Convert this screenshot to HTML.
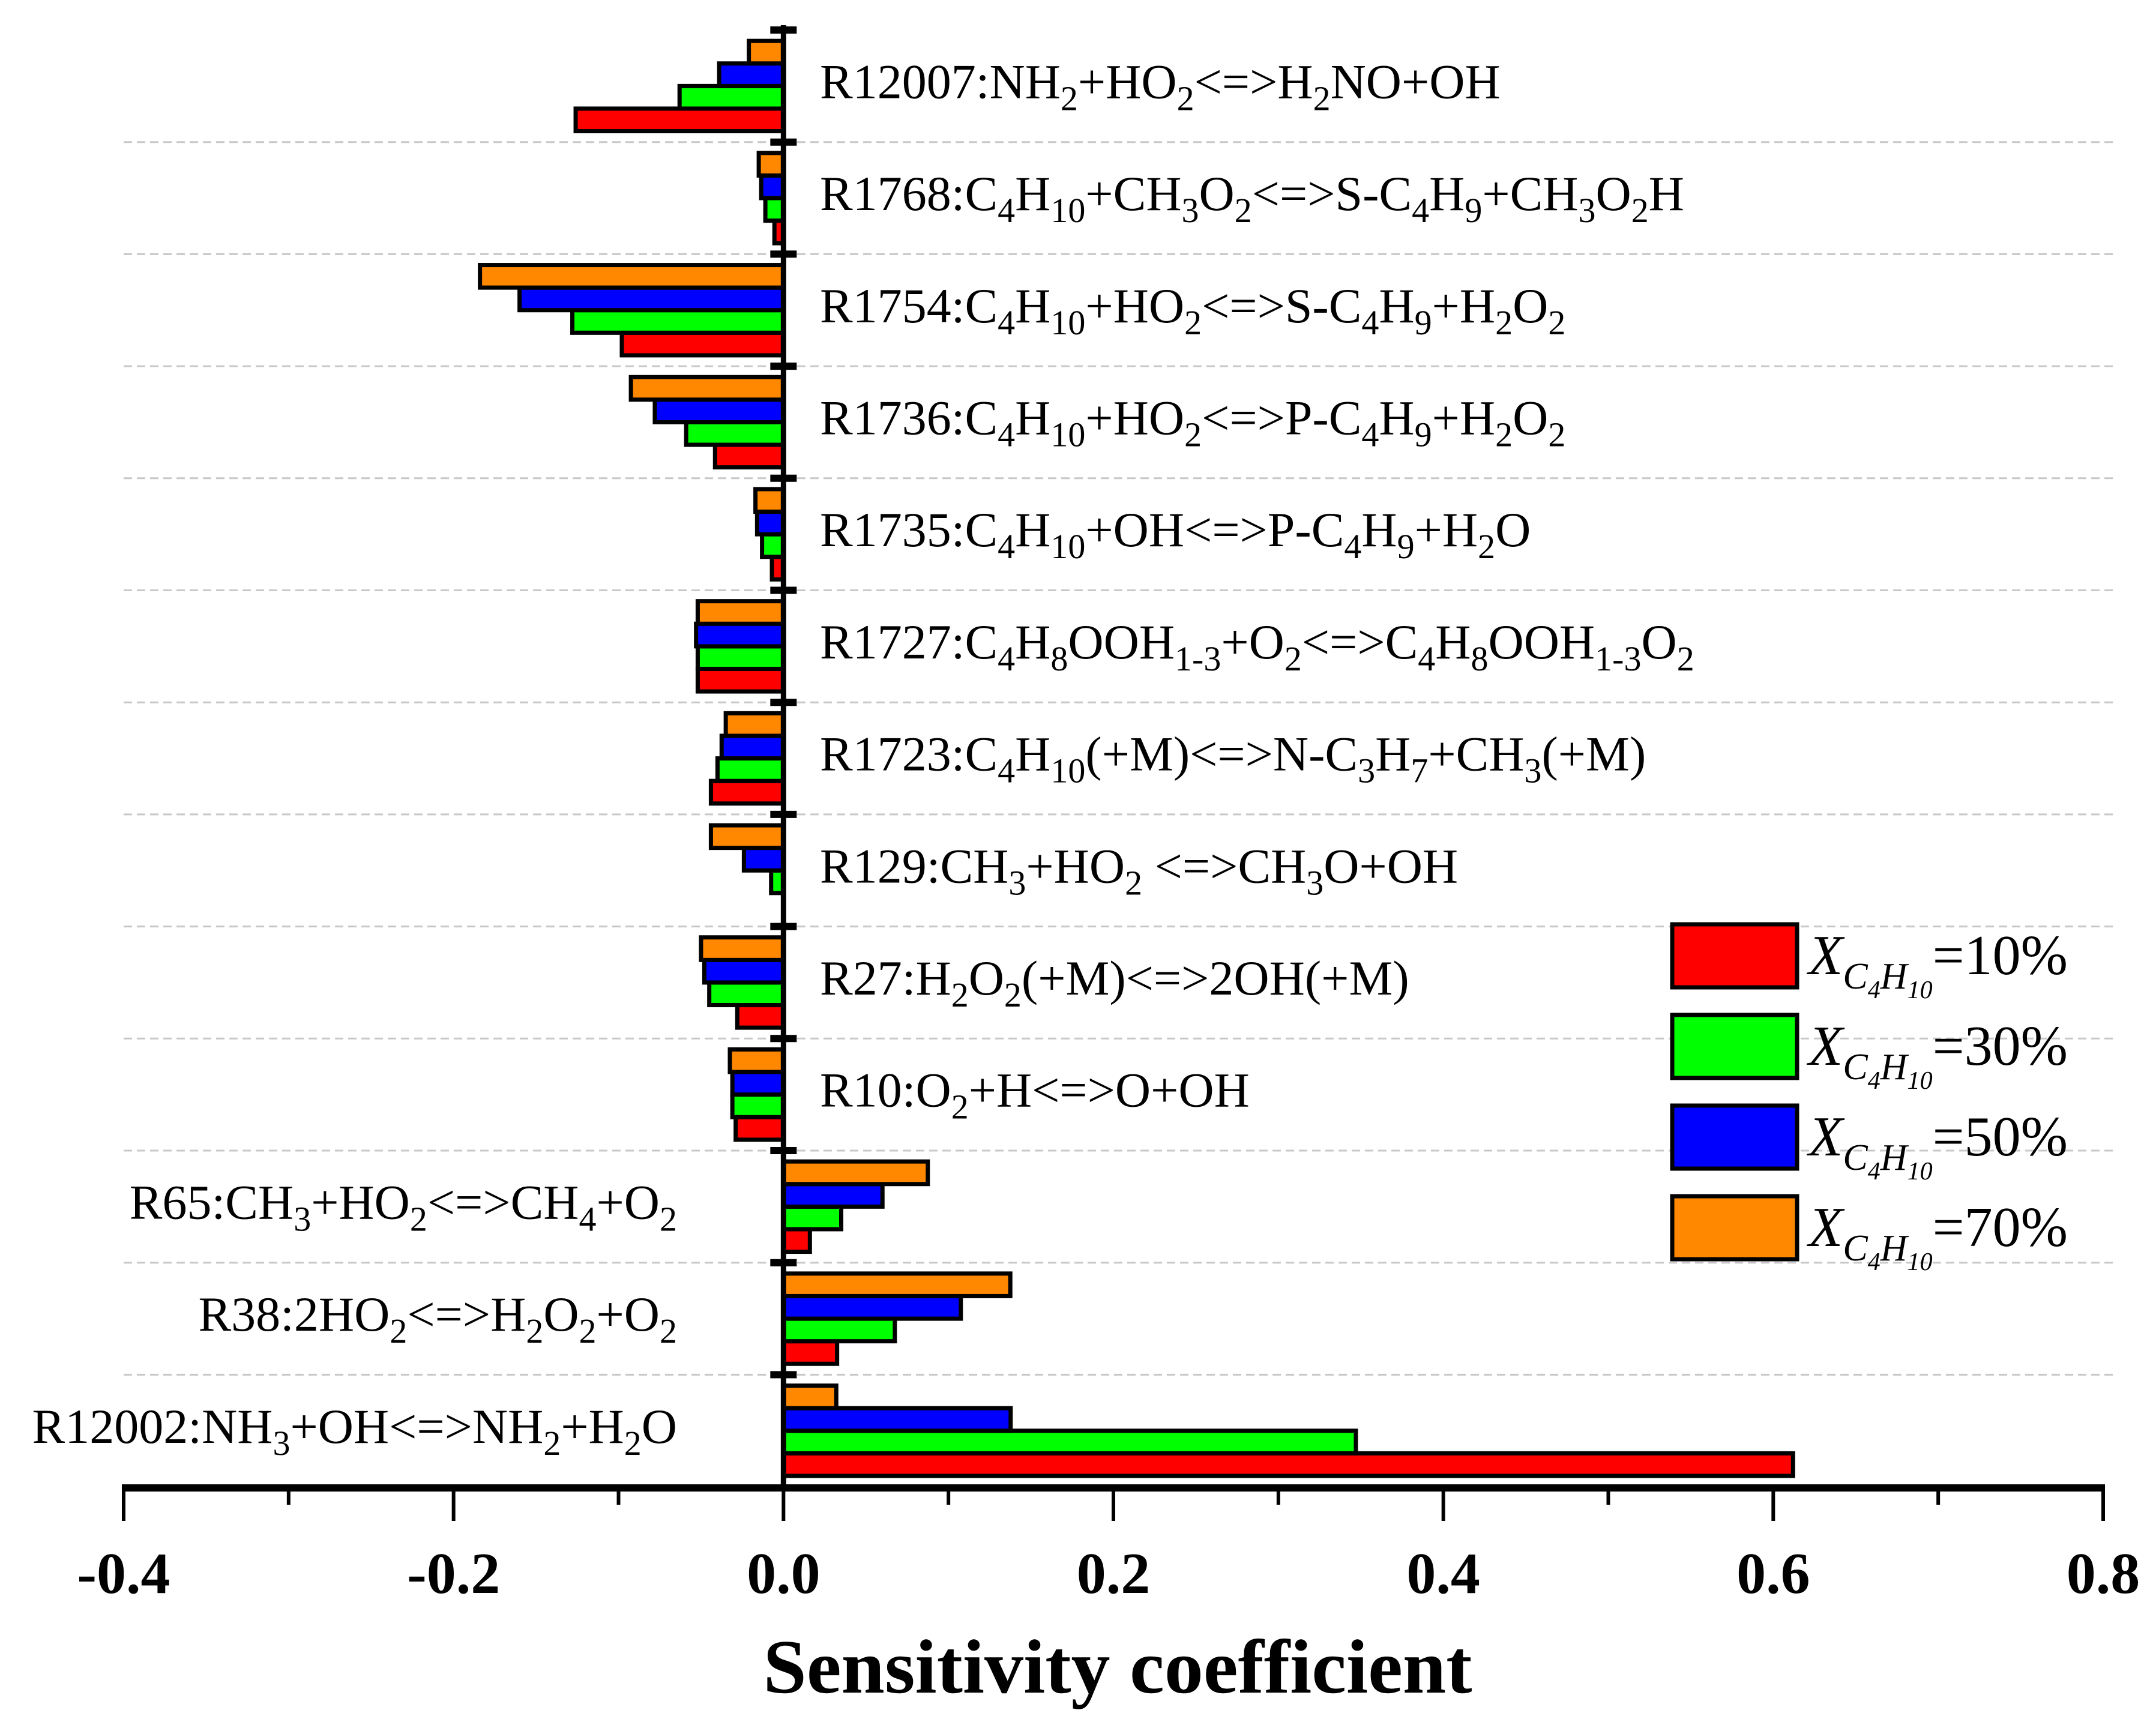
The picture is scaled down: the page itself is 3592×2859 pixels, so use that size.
<!DOCTYPE html>
<html><head><meta charset="utf-8"><style>
html,body{margin:0;padding:0;background:#fff;}
svg{display:block;}
text{font-family:"Liberation Serif","Times New Roman",serif;fill:#000;}
</style></head><body>
<svg id="chart" width="3592" height="2859" viewBox="0 0 3592 2859" xmlns="http://www.w3.org/2000/svg">
<g id="grid"></g>
<g id="bars"></g>
<g id="axes"></g>
<g id="labels"></g>
<g id="legend"></g>
<text x="1862" y="2820" text-anchor="middle" font-size="128" font-weight="bold" textLength="1181" lengthAdjust="spacingAndGlyphs">Sensitivity coefficient</text>
</svg>
<script>
const categories = [
 "R12007:NH_{2}+HO_{2}<=>H_{2}NO+OH",
 "R1768:C_{4}H_{10}+CH_{3}O_{2}<=>S-C_{4}H_{9}+CH_{3}O_{2}H",
 "R1754:C_{4}H_{10}+HO_{2}<=>S-C_{4}H_{9}+H_{2}O_{2}",
 "R1736:C_{4}H_{10}+HO_{2}<=>P-C_{4}H_{9}+H_{2}O_{2}",
 "R1735:C_{4}H_{10}+OH<=>P-C_{4}H_{9}+H_{2}O",
 "R1727:C_{4}H_{8}OOH_{1-3}+O_{2}<=>C_{4}H_{8}OOH_{1-3}O_{2}",
 "R1723:C_{4}H_{10}(+M)<=>N-C_{3}H_{7}+CH_{3}(+M)",
 "R129:CH_{3}+HO_{2} <=>CH_{3}O+OH",
 "R27:H_{2}O_{2}(+M)<=>2OH(+M)",
 "R10:O_{2}+H<=>O+OH",
 "R65:CH_{3}+HO_{2}<=>CH_{4}+O_{2}",
 "R38:2HO_{2}<=>H_{2}O_{2}+O_{2}",
 "R12002:NH_{3}+OH<=>NH_{2}+H_{2}O"
];
const series10 = [-0.126,-0.0055,-0.098,-0.0415,-0.007,-0.052,-0.044,0,-0.028,-0.029,0.016,0.0325,0.612];
const series30 = [-0.063,-0.011,-0.128,-0.059,-0.013,-0.052,-0.040,-0.0075,-0.045,-0.031,0.035,0.0675,0.347];
const series50 = [-0.039,-0.0135,-0.160,-0.078,-0.016,-0.053,-0.0375,-0.024,-0.048,-0.031,0.060,0.1075,0.1377];
const series70 = [-0.021,-0.015,-0.184,-0.0925,-0.017,-0.052,-0.035,-0.044,-0.050,-0.0325,0.0875,0.1375,0.032];
const seriesNames = ["10%","30%","50%","70%"];
const xTicks = [-0.4,-0.2,0.0,0.2,0.4,0.6,0.8];
const xTickLabels = ["-0.4","-0.2","0.0","0.2","0.4","0.6","0.8"];

const NS="http://www.w3.org/2000/svg";
const colors=["#ff0000","#00ff00","#0000ff","#ff8800"];
const allSeries=[series10,series30,series50,series70];
const X0=206, X1=3504, XMIN=-0.4, XMAX=0.8;
const yTop=50, band=186.7;
function xs(v){return X0+(v-XMIN)/(XMAX-XMIN)*(X1-X0);}
function bandY(i){return yTop+i*band;}
function mk(tag,attrs,parent){const e=document.createElementNS(NS,tag);for(const k in attrs)e.setAttribute(k,attrs[k]);parent.appendChild(e);return e;}
const gGrid=document.getElementById('grid'),gBars=document.getElementById('bars'),gAxes=document.getElementById('axes'),gLab=document.getElementById('labels'),gLeg=document.getElementById('legend');
const x0=xs(0);
for(let i=1;i<categories.length;i++){
  const l=mk('line',{x1:X0,x2:3520,y1:bandY(i),y2:bandY(i),stroke:'#c8c8c8','stroke-width':3,'stroke-dasharray':'14 8'},gGrid);
  
  
}
const barH=37.6, pad=(band-4*barH)/2;
categories.forEach((c,i)=>{
  for(let s=0;s<4;s++){
    const v=allSeries[s][i];
    const slot=3-s;
    const y=bandY(i)+pad+slot*barH;
    const xa=Math.min(xs(v),x0), w=Math.abs(xs(v)-x0);
    if(w<0.5) continue;
    const r=mk('rect',{x:xa,y:y,width:w,height:barH,fill:colors[s],stroke:'#000','stroke-width':7},gBars);
    
    
  }
});
const va=mk('line',{x1:x0,x2:x0,y1:yTop-8,y2:2484,stroke:'#000','stroke-width':9},gAxes);


for(let i=0;i<categories.length;i++){
  const t=mk('line',{x1:x0-22,x2:x0+22,y1:bandY(i),y2:bandY(i),stroke:'#000','stroke-width':12},gAxes);
  
  
}
const ha=mk('line',{x1:X0-3,x2:X1+3,y1:2479,y2:2479,stroke:'#000','stroke-width':12},gAxes);


xTicks.forEach((v,k)=>{
  const t=mk('line',{x1:xs(v),x2:xs(v),y1:2479,y2:2534,stroke:'#000','stroke-width':6},gAxes);
  
  
  if(k<xTicks.length-1){
    const m=mk('line',{x1:xs(v+0.1),x2:xs(v+0.1),y1:2479,y2:2507,stroke:'#000','stroke-width':6},gAxes);
    
    
  }
  const tx=mk('text',{x:xs(v),y:2654,'text-anchor':'middle','font-size':98,'font-weight':'bold'},gAxes);
  tx.textContent=xTickLabels[k];
  
  
});
function fillRich(el,str,fs,subfs,shift){
  const re=/_\{([^}]*)\}/g;let last=0,m;
  const parts=[];
  while((m=re.exec(str))){parts.push([str.slice(last,m.index),0]);parts.push([m[1],1]);last=re.lastIndex;}
  parts.push([str.slice(last),0]);
  let cur=0;
  parts.forEach(([t,sub])=>{
    if(!t)return;
    const ts=document.createElementNS(NS,'tspan');
    const dy=(sub?shift:0)-cur; cur=sub?shift:0;
    if(dy!==0)ts.setAttribute('dy',dy);
    ts.setAttribute('font-size',sub?subfs:fs);
    ts.textContent=t; el.appendChild(ts);
  });
}
categories.forEach((c,i)=>{
  const v=Math.max(series10[i],series30[i],series50[i],series70[i]);
  const pos=v>0;
  const t=mk('text',{x:pos?1128:1366,y:bandY(i)+band/2+20,'text-anchor':pos?'end':'start','font-size':82},gLab);
  
  
  t.setAttribute('xml:space','preserve');
  fillRich(t,c,82,58,20);
});
seriesNames.forEach((n,s)=>{
  const y=1540+s*151;
  const r=mk('rect',{x:2786,y:y,width:208,height:105,fill:colors[s],stroke:'#000','stroke-width':7},gLeg);
  
  
  const t=mk('text',{x:3013,y:y+83,'font-size':94},gLeg);
  
  
  const a=document.createElementNS(NS,'tspan');a.setAttribute('font-style','italic');a.textContent='X';t.appendChild(a);
  const b=document.createElementNS(NS,'tspan');b.setAttribute('font-style','italic');b.setAttribute('font-size',62);b.setAttribute('dy',24);b.textContent='C';t.appendChild(b);
  const c2=document.createElementNS(NS,'tspan');c2.setAttribute('font-style','italic');c2.setAttribute('font-size',42);c2.setAttribute('dy',16);c2.textContent='4';t.appendChild(c2);
  const d=document.createElementNS(NS,'tspan');d.setAttribute('font-style','italic');d.setAttribute('font-size',62);d.setAttribute('dy',-16);d.textContent='H';t.appendChild(d);
  const e=document.createElementNS(NS,'tspan');e.setAttribute('font-style','italic');e.setAttribute('font-size',42);e.setAttribute('dy',16);e.textContent='10';t.appendChild(e);
  const f=document.createElementNS(NS,'tspan');f.setAttribute('font-size',94);f.setAttribute('dy',-40);f.textContent='='+n;t.appendChild(f);
});
</script>
</body></html>
